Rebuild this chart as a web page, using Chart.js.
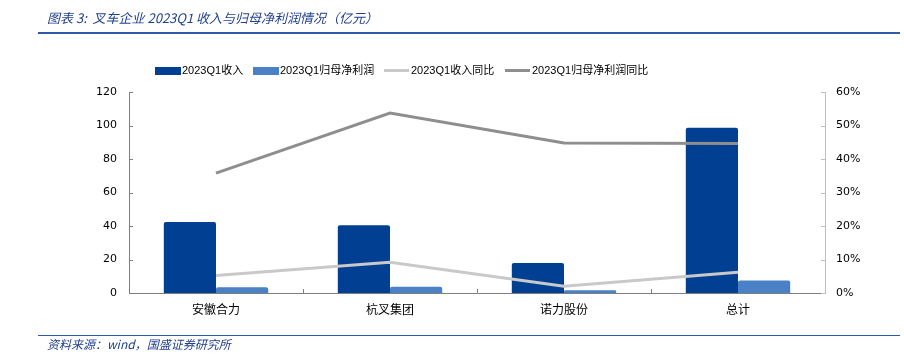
<!DOCTYPE html>
<html>
<head>
<meta charset="utf-8">
<script src="https://cdn.jsdelivr.net/npm/chart.js@4"></script>
<style>
  body { margin: 0; background: #fff; }
  #wrap { position: relative; width: 904px; height: 354px; overflow: hidden; }
  #chart { position: absolute; left: 0; top: 0; }
  .title { position: absolute; left: 47px; top: 8px; font: italic 13px "Noto Sans CJK SC"; color: #1f3f8f; white-space: nowrap; }
  .rule { position: absolute; left: 38px; width: 862px; background: #2f5aa8; }
  .src { position: absolute; left: 47px; top: 337px; font: italic 12px "Noto Sans CJK SC"; color: #1f3f8f; white-space: nowrap; line-height: 14px; }
  .leg { position: absolute; top: 62px; font: 11px "Liberation Sans", "Noto Sans CJK SC"; color: #000; white-space: nowrap; line-height: 16px; }
  .leg i { position: absolute; display: block; }
</style>
</head>
<body>
<div id="wrap">
  <canvas id="chart" width="904" height="354"></canvas>
  <div class="title">图表 3:&nbsp; 叉车企业 2023Q1 收入与归母净利润情况（亿元）</div>
  <div class="rule" style="top:32px;height:2px"></div>
  <div id="legend"></div>
  <div class="rule" style="top:335px;height:1px"></div>
  <div class="src">资料来源：wind，国盛证券研究所</div>
</div>
<script>
// data
const categories = ['安徽合力', '杭叉集团', '诺力股份', '总计'];
const revenue = [42.4, 40.4, 17.9, 98.7];          // 2023Q1收入 (亿元)
const netProfit = [3.5, 3.8, 1.6, 7.4];            // 2023Q1归母净利润 (亿元)
const revenueYoY = [5.2, 9.2, 2.0, 6.2];           // 2023Q1收入同比 (%)
const profitYoY = [35.8, 53.7, 44.8, 44.6];        // 2023Q1归母净利润同比 (%)
const leftTicks = [0, 20, 40, 60, 80, 100, 120];
const rightTicks = [0, 10, 20, 30, 40, 50, 60];

const colors = {
  revenue: '#003f92',
  profit: '#4a80c6',
  revYoY: '#c9c9c9',
  proYoY: '#8e8e8e'
};

// legend built in html
const legendItems = [
  { label: '2023Q1收入', color: colors.revenue, type: 'box', x: 155 },
  { label: '2023Q1归母净利润', color: colors.profit, type: 'box', x: 253 },
  { label: '2023Q1收入同比', color: colors.revYoY, type: 'line', x: 384 },
  { label: '2023Q1归母净利润同比', color: colors.proYoY, type: 'line', x: 505 }
];
const legendBox = document.getElementById('legend');
legendItems.forEach(it => {
  const el = document.createElement('div');
  el.className = 'leg';
  el.style.left = it.x + 'px';
  el.style.paddingLeft = (it.type === 'box' ? 27 : 27) + 'px';
  const mark = document.createElement('i');
  mark.style.background = it.color;
  mark.style.left = '0px';
  if (it.type === 'box') {
    mark.style.width = '26px'; mark.style.height = '8px'; mark.style.top = '5px';
  } else {
    mark.style.width = '25px'; mark.style.height = '3px'; mark.style.top = '7px';
  }
  el.appendChild(mark);
  el.appendChild(document.createTextNode(it.label));
  legendBox.appendChild(el);
});

// small inward tick marks like the original
const innerTicks = {
  id: 'innerTicks',
  afterDraw(chart) {
    const { ctx, scales, chartArea } = chart;
    ctx.save();
    ctx.lineWidth = 1;
    ctx.strokeStyle = '#7f7f7f';
    leftTicks.forEach(v => {
      const y = Math.round(scales.y.getPixelForValue(v)) + 0.5;
      ctx.beginPath(); ctx.moveTo(chartArea.left, y); ctx.lineTo(chartArea.left + 4, y); ctx.stroke();
    });
    ctx.strokeStyle = '#bfbfbf';
    rightTicks.forEach(v => {
      const y = Math.round(scales.y1.getPixelForValue(v)) + 0.5;
      ctx.beginPath(); ctx.moveTo(chartArea.right - 4, y); ctx.lineTo(chartArea.right, y); ctx.stroke();
    });
    ctx.strokeStyle = '#7f7f7f';
    for (let i = 1; i < categories.length; i++) {
      const x = Math.round((scales.x.getPixelForTick(i - 1) + scales.x.getPixelForTick(i)) / 2) + 0.5;
      ctx.beginPath(); ctx.moveTo(x, chartArea.bottom); ctx.lineTo(x, chartArea.bottom - 4); ctx.stroke();
    }
    ctx.restore();
  }
};

new Chart(document.getElementById('chart'), {
  type: 'bar',
  data: {
    labels: categories,
    datasets: [
      {
        type: 'line', label: '2023Q1收入同比', data: revenueYoY, yAxisID: 'y1',
        borderColor: colors.revYoY, borderWidth: 3, pointRadius: 0, tension: 0, order: 1
      },
      {
        type: 'line', label: '2023Q1归母净利润同比', data: profitYoY, yAxisID: 'y1',
        borderColor: colors.proYoY, borderWidth: 3, pointRadius: 0, tension: 0, order: 1
      },
      {
        label: '2023Q1收入', data: revenue, yAxisID: 'y',
        backgroundColor: colors.revenue, borderRadius: 2, borderSkipped: 'bottom',
        barPercentage: 1.0, categoryPercentage: 0.6, order: 2
      },
      {
        label: '2023Q1归母净利润', data: netProfit, yAxisID: 'y',
        backgroundColor: colors.profit, borderRadius: 2, borderSkipped: 'bottom',
        barPercentage: 1.0, categoryPercentage: 0.6, order: 2
      }
    ]
  },
  options: {
    responsive: false,
    animation: false,
    layout: { padding: { top: 92, left: 0, right: 0, bottom: 0 } },
    plugins: {
      legend: { display: false },
      tooltip: { enabled: false }
    },
    scales: {
      x: {
        grid: { display: false, drawTicks: false },
        border: { color: '#7f7f7f', width: 1 },
        ticks: { color: '#000', padding: 9, font: { family: 'Noto Sans CJK SC', size: 12 } },
        afterFit: s => { s.height = 61; }
      },
      y: {
        position: 'left', min: 0, max: 120,
        grid: { display: false, drawTicks: false },
        border: { color: '#7f7f7f', width: 1 },
        ticks: { stepSize: 20, color: '#000', padding: 12, font: { family: 'DejaVu Sans', size: 11 } },
        afterFit: s => { s.width = 129; }
      },
      y1: {
        position: 'right', min: 0, max: 60,
        grid: { display: false, drawTicks: false },
        border: { color: '#bfbfbf', width: 1 },
        ticks: { stepSize: 10, color: '#000', padding: 11, font: { family: 'DejaVu Sans', size: 11 },
          callback: v => v + '%' },
        afterFit: s => { s.width = 79; }
      }
    }
  },
  plugins: [innerTicks]
});
</script>
</body>
</html>
